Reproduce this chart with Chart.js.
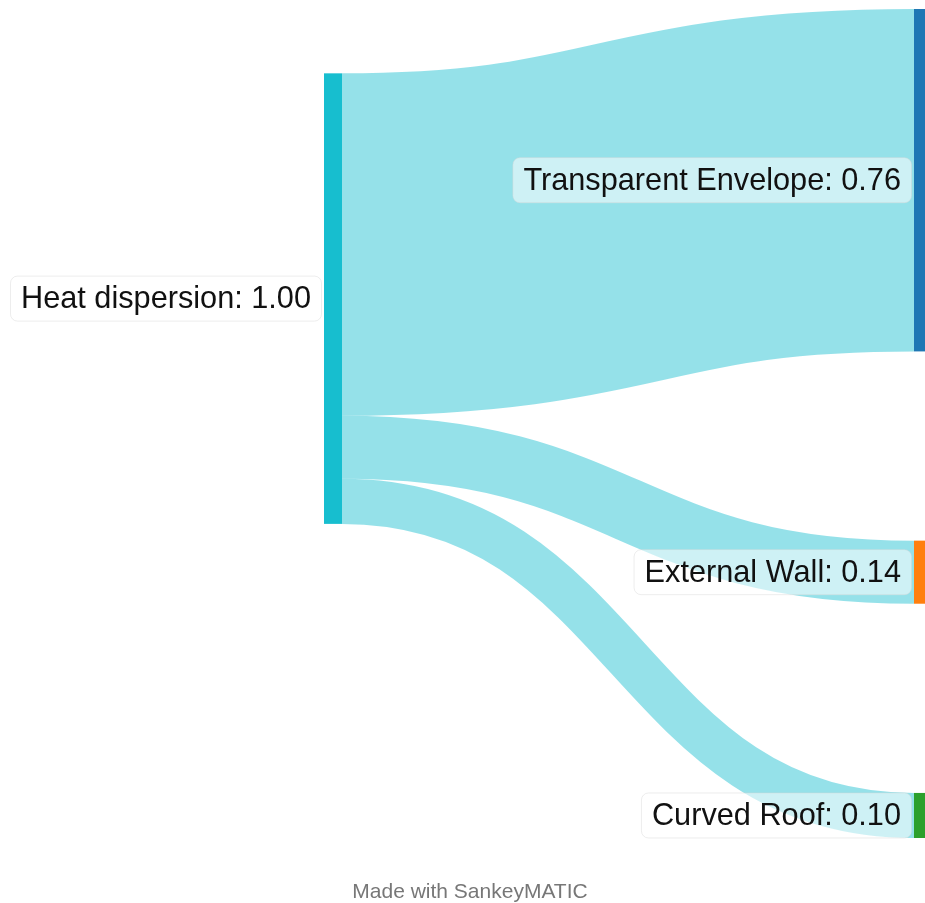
<!DOCTYPE html>
<html>
<head>
<meta charset="utf-8">
<title>Heat dispersion</title>
<script src="https://cdn.jsdelivr.net/npm/chart.js@4.4.1/dist/chart.umd.min.js"></script>
<style>
  html, body { margin: 0; padding: 0; background: #ffffff; }
  #wrap { width: 925px; height: 903px; position: relative; }
</style>
</head>
<body>
<div id="wrap"><canvas id="chart"></canvas></div>
<script>
// Nodes of the diagram and the column each one sits in
const nodeNames = ['Heat dispersion', 'Transparent Envelope', 'External Wall', 'Curved Roof'];
const nodeColumns = [0, 1, 1, 1];

// Flows between nodes (indices into nodeNames) and their values
const flowSources = [0, 0, 0];
const flowTargets = [1, 2, 3];
const flowValues = [0.76, 0.14, 0.10];

// Styling
const nodeColors = ['#17becf', '#1f77b4', '#ff7f0e', '#2ca02c'];
const flowColor = 'rgba(23, 190, 207, 0.46)';
const nodeWidth = 18;
const nodeGap = 0.42;           // vertical space between stacked nodes, in value units
const FONT = '"Liberation Sans", Arial, Helvetica, sans-serif';

// ---- layout (in value units) ----
function buildLayout() {
  const n = nodeNames.length;
  const inSum = new Array(n).fill(0), outSum = new Array(n).fill(0);
  flowValues.forEach((v, i) => { outSum[flowSources[i]] += v; inSum[flowTargets[i]] += v; });
  const value = nodeNames.map((_, i) => Math.max(inSum[i], outSum[i]));
  const top = new Array(n).fill(0);

  // right-hand column: nodes stacked top to bottom with a fixed gap
  let y = 0;
  nodeNames.forEach((_, i) => {
    if (nodeColumns[i] === 1) { top[i] = y; y += value[i] + nodeGap; }
  });
  const extent = y - nodeGap;

  // offset of each flow inside its source and its target node
  const srcOff = [], tgtOff = [];
  const usedOut = new Array(n).fill(0), usedIn = new Array(n).fill(0);
  flowValues.forEach((v, i) => {
    srcOff[i] = usedOut[flowSources[i]]; usedOut[flowSources[i]] += v;
    tgtOff[i] = usedIn[flowTargets[i]]; usedIn[flowTargets[i]] += v;
  });

  // left-hand column: placed at the value-weighted position of its outgoing flows
  nodeNames.forEach((_, i) => {
    if (nodeColumns[i] !== 0) return;
    let acc = 0, w = 0;
    flowValues.forEach((v, f) => {
      if (flowSources[f] !== i) return;
      acc += v * (top[flowTargets[f]] + tgtOff[f] - srcOff[f]);
      w += v;
    });
    top[i] = w ? acc / w : 0;
  });

  return { value, top, srcOff, tgtOff, extent };
}

const layout = buildLayout();

function roundRect(ctx, x, y, w, h, r) {
  ctx.beginPath();
  ctx.moveTo(x + r, y);
  ctx.lineTo(x + w - r, y);
  ctx.arcTo(x + w, y, x + w, y + r, r);
  ctx.lineTo(x + w, y + h - r);
  ctx.arcTo(x + w, y + h, x + w - r, y + h, r);
  ctx.lineTo(x + r, y + h);
  ctx.arcTo(x, y + h, x, y + h - r, r);
  ctx.lineTo(x, y + r);
  ctx.arcTo(x, y, x + r, y, r);
  ctx.closePath();
}

// Draws flows, nodes and labels through the chart's x and y scales
const sankeyPlugin = {
  id: 'sankeyDraw',
  afterDatasetsDraw(chart) {
    const ctx = chart.ctx;
    const xs = chart.scales.x, ys = chart.scales.y;
    const py = v => ys.getPixelForValue(v);
    const unit = v => Math.abs(py(v) - py(0));

    ctx.save();

    // flows
    flowValues.forEach((v, f) => {
      const s = flowSources[f], t = flowTargets[f];
      const x0 = xs.getPixelForValue(nodeColumns[s]) + nodeWidth;
      const x1 = xs.getPixelForValue(nodeColumns[t]);
      const y0 = py(layout.top[s] + layout.srcOff[f] + v / 2);
      const y1 = py(layout.top[t] + layout.tgtOff[f] + v / 2);
      const xm = (x0 + x1) / 2;
      ctx.beginPath();
      ctx.moveTo(x0, y0);
      ctx.bezierCurveTo(xm, y0, xm, y1, x1, y1);
      ctx.lineWidth = unit(v);
      ctx.lineCap = 'butt';
      ctx.strokeStyle = flowColor;
      ctx.stroke();
    });

    // nodes
    nodeNames.forEach((_, i) => {
      const x = xs.getPixelForValue(nodeColumns[i]);
      const yTop = py(layout.top[i]);
      ctx.fillStyle = nodeColors[i];
      ctx.fillRect(x, yTop, nodeWidth, unit(layout.value[i]));
    });

    // labels, to the left of each node
    ctx.font = '30.7px ' + FONT;
    ctx.textBaseline = 'middle';
    ctx.textAlign = 'right';
    nodeNames.forEach((name, i) => {
      const text = name + ': ' + layout.value[i].toFixed(2);
      const x = xs.getPixelForValue(nodeColumns[i]);
      const yc = py(layout.top[i] + layout.value[i] / 2);
      const right = x - 13;
      const w = ctx.measureText(text).width;
      const padX = 10.5, h = 45;
      roundRect(ctx, right - w - padX, yc - h / 2, w + 2 * padX, h, 7);
      ctx.fillStyle = 'rgba(255, 255, 255, 0.55)';
      ctx.fill();
      ctx.lineWidth = 1;
      ctx.strokeStyle = 'rgba(215, 215, 215, 0.45)';
      ctx.stroke();
      ctx.fillStyle = '#111111';
      ctx.fillText(text, right, yc + 1);
    });

    // credit line
    ctx.font = '21px ' + FONT;
    ctx.textAlign = 'center';
    ctx.textBaseline = 'alphabetic';
    ctx.fillStyle = '#777777';
    ctx.fillText('Made with SankeyMATIC', 470, 898);

    ctx.restore();
  }
};

new Chart(document.getElementById('chart'), {
  type: 'scatter',
  data: { datasets: [] },
  options: {
    responsive: true,
    maintainAspectRatio: false,
    animation: false,
    events: [],
    layout: { padding: { left: 324, right: 11, top: 9, bottom: 65 } },
    plugins: { legend: { display: false }, tooltip: { enabled: false }, title: { display: false } },
    scales: {
      x: { type: 'linear', min: 0, max: 1, display: false },
      y: { type: 'linear', min: 0, max: layout.extent, reverse: true, display: false }
    }
  },
  plugins: [sankeyPlugin]
});
</script>
</body>
</html>
